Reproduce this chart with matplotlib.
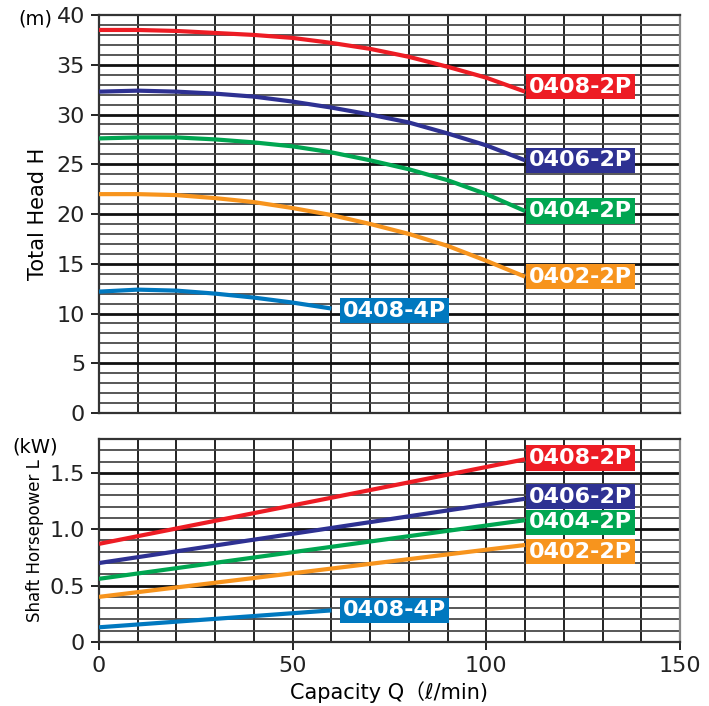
import numpy as np
import matplotlib.pyplot as plt

# capacity Q (l/min)
q_2p = [0, 10, 20, 30, 40, 50, 60, 70, 80, 90, 100, 110]
q_4p = [0, 10, 20, 30, 40, 50, 60]

# total head H (m)
head_0408_2p = [38.5, 38.5, 38.4, 38.2, 38.0, 37.7, 37.2, 36.6, 35.8, 34.8, 33.7, 32.3]
head_0406_2p = [32.3, 32.4, 32.3, 32.1, 31.8, 31.3, 30.7, 30.0, 29.2, 28.1, 26.9, 25.4]
head_0404_2p = [27.6, 27.7, 27.7, 27.5, 27.2, 26.8, 26.2, 25.4, 24.5, 23.4, 22.0, 20.3]
head_0402_2p = [22.0, 22.0, 21.9, 21.6, 21.2, 20.6, 19.9, 19.0, 18.0, 16.8, 15.3, 13.7]
head_0408_4p = [12.2, 12.4, 12.3, 12.0, 11.6, 11.1, 10.5]

# shaft horsepower L (kW)
pow_0408_2p = [0.87, 1.62]
pow_0406_2p = [0.70, 1.27]
pow_0404_2p = [0.56, 1.08]
pow_0402_2p = [0.40, 0.86]
pow_0408_4p = [0.13, 0.28]
q_end_2p = [0, 110]
q_end_4p = [0, 60]

names = ['0408-2P', '0406-2P', '0404-2P', '0402-2P', '0408-4P']
colors = ['#ED1C24', '#2E3192', '#00A651', '#F7941D', '#0078BF']

# label positions (Q at left edge of box, value at box centre)
head_lab_y = [32.8, 25.4, 20.3, 13.7, 10.3]
head_lab_x = [111, 111, 111, 111, 63]
pow_lab_y = [1.63, 1.29, 1.06, 0.80, 0.28]
pow_lab_x = [111, 111, 111, 111, 63]

fig = plt.figure(figsize=(7.09, 7.06), dpi=100)
ax1 = fig.add_axes([0.1396, 0.415, 0.8195, 0.5637])
ax2 = fig.add_axes([0.1396, 0.0907, 0.8195, 0.2875])


def style_grid(ax, ymax, ystep, ymajor):
    ax.set_xlim(0, 150)
    ax.set_ylim(0, ymax)
    for x in np.arange(10, 150, 10):
        ax.axvline(x, color='#222222', lw=1.4, zorder=1)
    n = int(round(ymax / ystep))
    for i in range(1, n):
        y = i * ystep
        if i % ymajor == 0:
            ax.axhline(y, color='#111111', lw=2.0, zorder=1)
        else:
            ax.axhline(y, color='#4a4a4a', lw=1.3, zorder=1)
    for s in ax.spines.values():
        s.set_color('#333333')
        s.set_linewidth(1.6)
    ax.spines['right'].set_color('#888888')
    ax.tick_params(axis='both', direction='out', length=6, width=1.4,
                   labelsize=16, colors='#222222', pad=4)


style_grid(ax1, 40, 1, 5)
style_grid(ax2, 1.8, 0.1, 5)

ax1.set_yticks(np.arange(0, 41, 5))
ax1.set_xticks([0, 50, 100, 150])
ax1.tick_params(axis='x', length=0, labelbottom=False)
ax2.set_yticks([0, 0.5, 1.0, 1.5])
ax2.set_yticklabels(['0', '0.5', '1.0', '1.5'])
ax2.set_xticks([0, 50, 100, 150])

head = [head_0408_2p, head_0406_2p, head_0404_2p, head_0402_2p, head_0408_4p]
pw = [pow_0408_2p, pow_0406_2p, pow_0404_2p, pow_0402_2p, pow_0408_4p]
for i in range(5):
    qh = q_4p if i == 4 else q_2p
    qp = q_end_4p if i == 4 else q_end_2p
    ax1.plot(qh, head[i], color=colors[i], lw=3, zorder=3, solid_capstyle='butt')
    ax2.plot(qp, pw[i], color=colors[i], lw=3, zorder=3, solid_capstyle='butt')
    for ax, lx, ly in ((ax1, head_lab_x[i], head_lab_y[i]), (ax2, pow_lab_x[i], pow_lab_y[i])):
        ax.text(lx, ly, names[i], color='white', fontsize=16, fontweight='bold',
                ha='left', va='center', zorder=5,
                bbox=dict(boxstyle='square,pad=0.12', fc=colors[i], ec='none'))

ax1.set_ylabel('Total Head H', fontsize=15, labelpad=6)
ax2.set_ylabel('Shaft Horsepower L', fontsize=12, labelpad=4)
ax2.set_xlabel('Capacity Q（ℓ/min)', fontsize=15, labelpad=4,
               family=['DejaVu Sans', 'Noto Sans CJK JP'])
fig.text(0.05, 0.973, '(m)', fontsize=14, ha='center', va='center')
fig.text(0.05, 0.367, '(kW)', fontsize=14, ha='center', va='center')

fig.savefig('out.png', dpi=100)
